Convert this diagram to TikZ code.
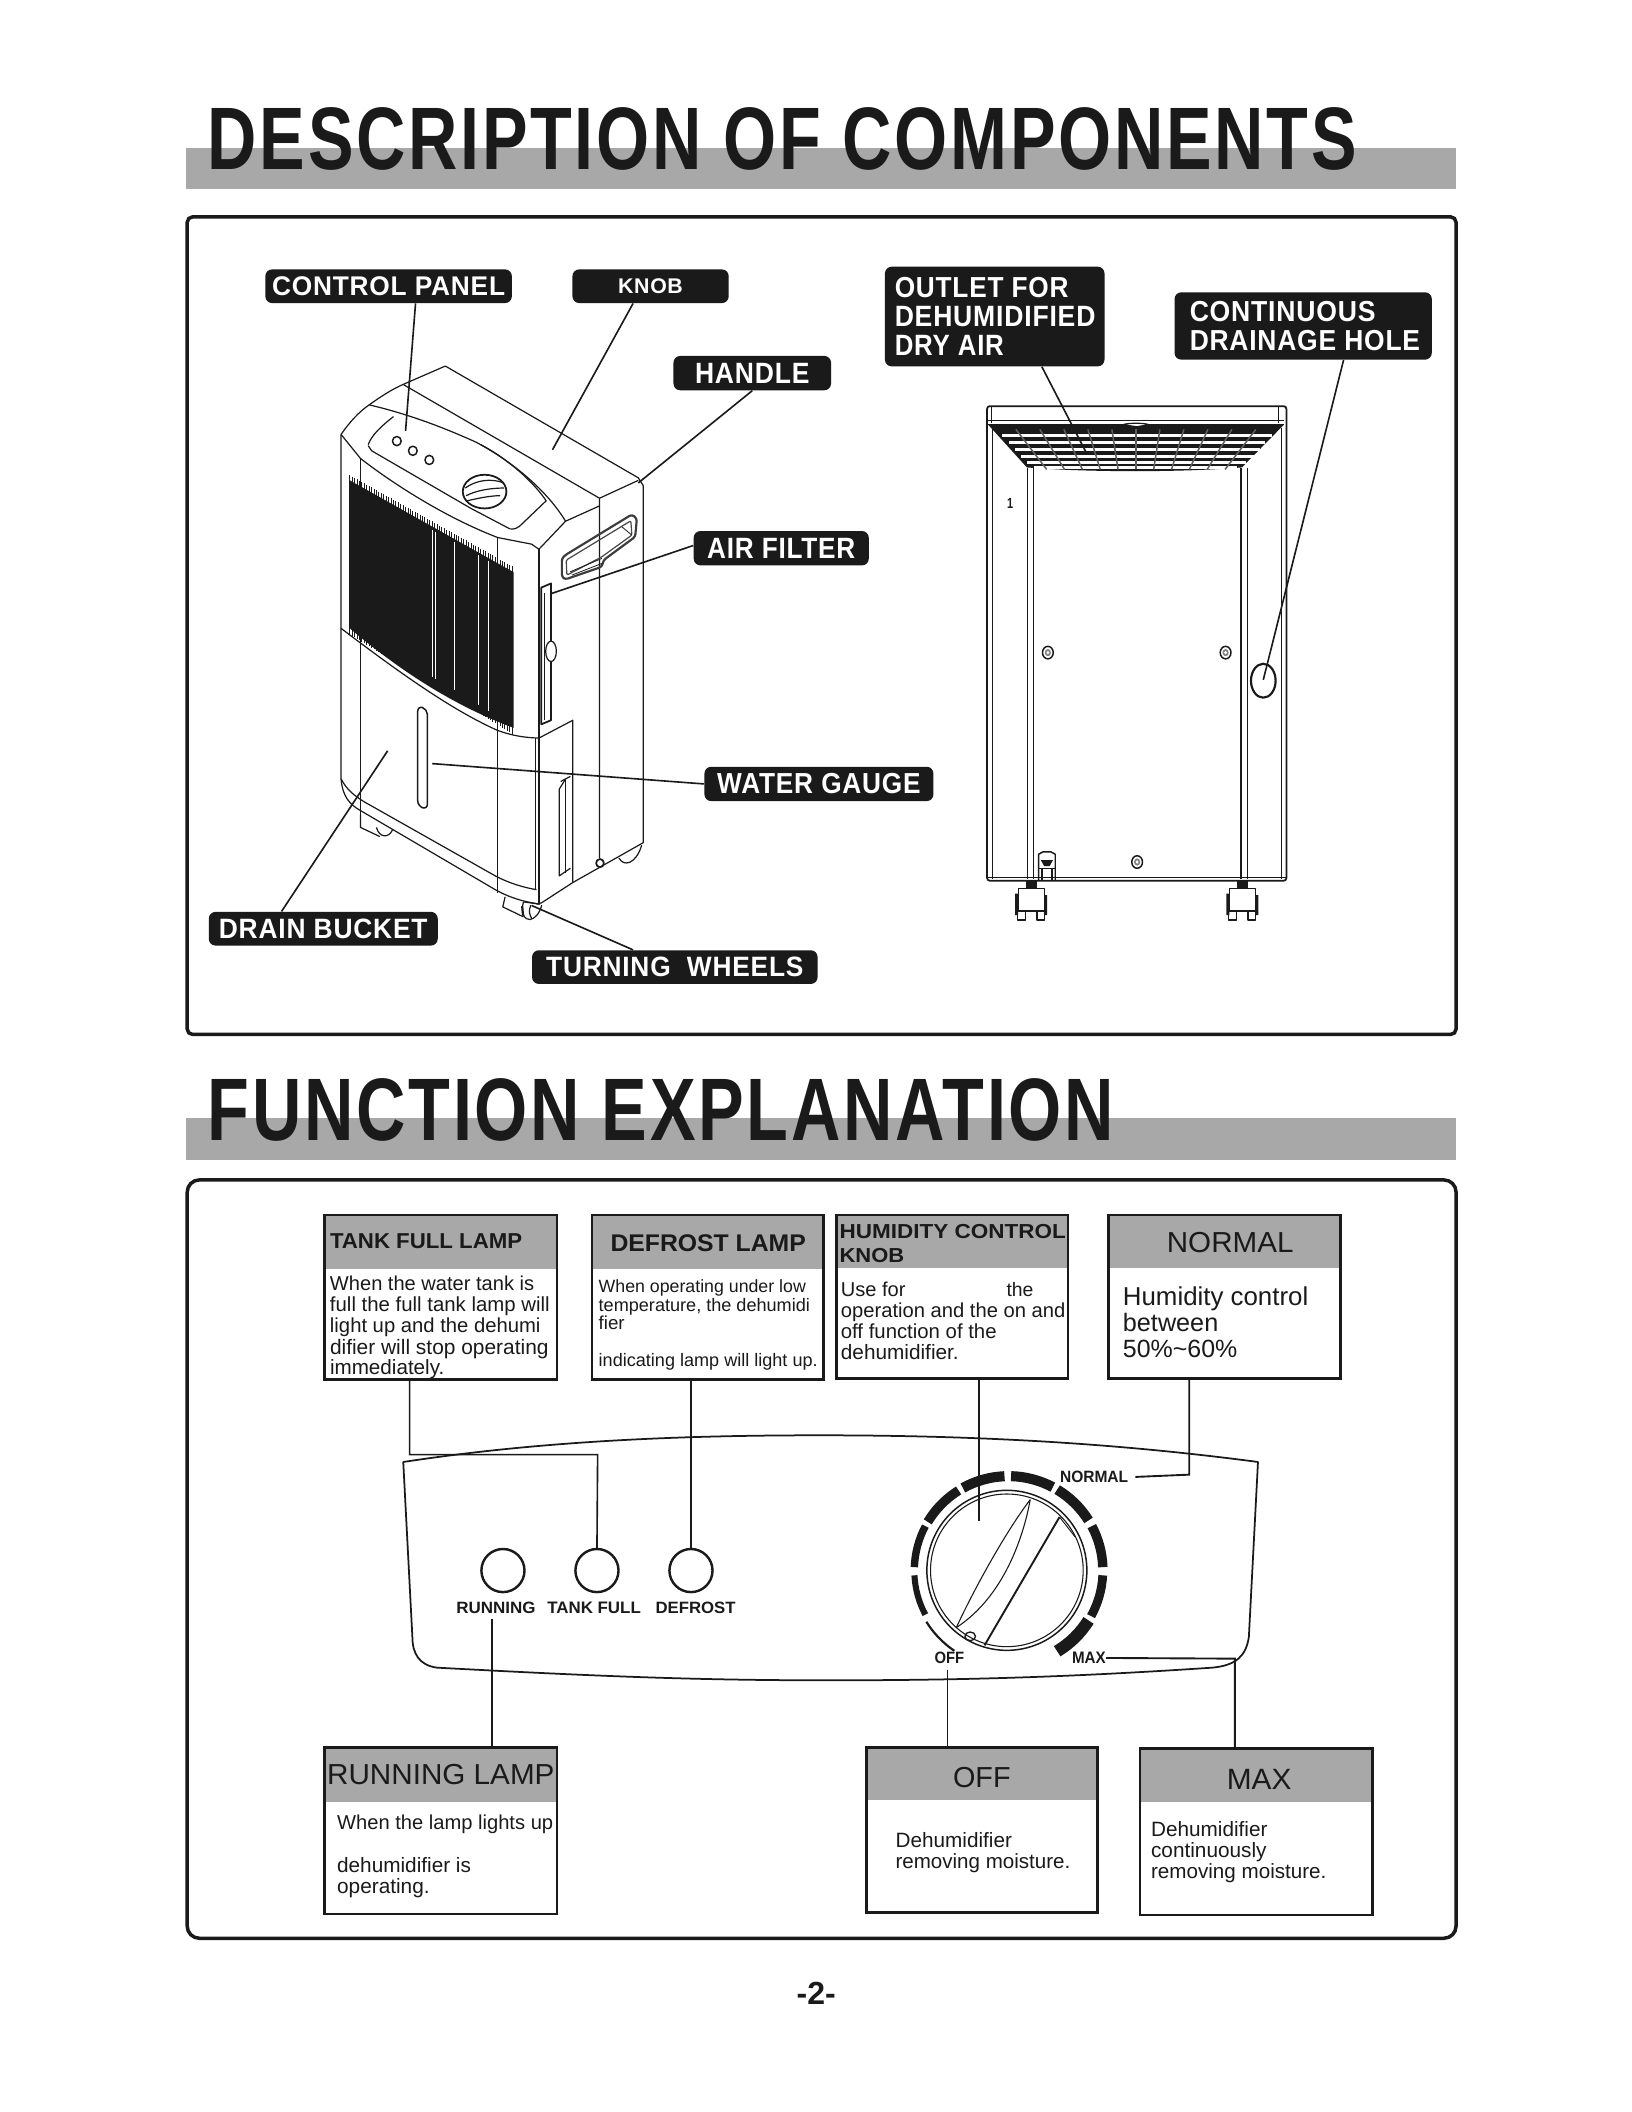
\documentclass[tikz,border=0pt]{standalone}
\usepackage{fontspec}
\usepackage{graphicx}
\setmainfont{Liberation Sans}
\usetikzlibrary{fit,calc}
\newdimen\uu \uu=0.67347pt
\definecolor{ink}{HTML}{1A1A1A}
\definecolor{band}{HTML}{A8A8A8}
\newcounter{txtc}
\newcommand\spaced{\addfontfeature{LetterSpace=3}}
\tikzset{
  dev/.style={draw=ink,line width=0.9\uu,line join=round},
  link/.style={draw=ink,line width=1.2\uu},
  fbox/.style={draw=ink,line width=2\uu,inner sep=-1\uu},
  pillbox/.style={fill=ink,draw=none,rounded corners=5\uu,inner sep=0pt},
  tnode/.style={inner sep=0pt,text=ink},
}
\newcommand\pill[8]{\node[pillbox,minimum width=#4\uu,minimum height=#5\uu,text=white] (#1) at (#2,#3) {\resizebox{#6\uu}{#7\uu}{\bfseries\spaced #8}};}
\newcommand\ftext[6]{\stepcounter{txtc}\node[tnode,anchor=west,text=#5] (txt\arabic{txtc}) at (#1,#2) {\resizebox{#3\uu}{#4\uu}{#6}};}
\newcommand\btext[4]{\stepcounter{txtc}\node[tnode,anchor=base west,yshift=-4.8\uu] (txt\arabic{txtc}) at (#1,#2) {\resizebox{#3\uu}{!}{#4}};}
\newcommand\funcbox[6]{\fill[band] (#2,#3) rectangle (#4,#6);\node[fbox,fit={(#2,#3)(#4,#5)}] (#1) {};}
\begin{document}
\begin{tikzpicture}[x=\uu,y=-\uu]
\useasboundingbox (0,0) rectangle (1211.6,1568);
\fill[white] (0,0) rectangle (1211.6,1568);
% titles
\fill[band] (138,110) rectangle (1081,140);
\node[tnode,anchor=west] (title1) at (154,103) {\resizebox{853\uu}{46\uu}{\bfseries\addfontfeature{LetterSpace=4} DESCRIPTION OF COMPONENTS}};
\draw[ink,line width=2.6\uu,rounded corners=4\uu] (139,161) rectangle (1081,768);
\fill[band] (138,830) rectangle (1081,861);
\node[tnode,anchor=west] (title2) at (154,824) {\resizebox{673\uu}{46\uu}{\bfseries\addfontfeature{LetterSpace=4} FUNCTION EXPLANATION}};
\draw[ink,line width=2.6\uu,rounded corners=9\uu] (139,876) rectangle (1081,1439);

% ---------- front view
\begin{scope}[shift={(133.7,163.4)},x=.36\uu,y=-.3789\uu]
\fill[ink] (350,510) -- (688,690) -- (688,995) .. controls (560,950) and (450,880) .. (350,800) -- cycle;
\foreach \x in {350,355,...,688} {
  \draw[ink,line width=.7\uu] (\x,{510+(\x-350)*.5325-10}) -- (\x,{800+(\x-350)*.58+12});
}
\foreach \x in {520,527,565,615,635,655} \draw[white,line width=.5\uu] (\x,{510+(\x-350)*.5325+6}) -- (\x,{800+(\x-350)*.58-4});
\draw[dev] (332,420) .. controls (350,395) and (370,375) .. (390,362) .. controls (415,345) and (440,330) .. (460,322) -- (547,286) -- (945,505) -- (955,520) -- (955,1220) -- (810,1298) -- (745,1338) -- (735,1340);
\draw[dev] (332,420) -- (332,1095) .. controls (335,1130) and (350,1145) .. (372,1157) -- (650,1312) .. controls (680,1328) and (710,1336) .. (740,1340);
\draw[dev] (332,1095) .. controls (345,1118) and (360,1128) .. (380,1140) -- (650,1285) .. controls (680,1300) and (710,1308) .. (735,1312);
\draw[dev] (460,322) -- (865,545) -- (865,1250);
\draw[dev] (865,545) -- (945,510);
\draw[dev] (390,362) .. controls (470,380) and (540,405) .. (610,435) .. controls (670,465) and (750,520) .. (795,590);
\draw[dev] (388,440) .. controls (395,420) and (420,400) .. (440,385);
\draw[dev] (388,442) -- (395,452) -- (600,565) -- (680,605) .. controls (690,606) and (695,604) .. (700,600) -- (755,550) .. controls (730,515) and (680,470) .. (620,440);
\draw[dev] (332,420) -- (372,467) .. controls (430,510) and (540,580) .. (655,622) -- (725,635) -- (740,645) -- (795,590) -- (865,560);
\draw[dev] (372,467) -- (372,1190);
\draw[dev] (655,620) -- (655,1318);
\draw[dev] (740,645) -- (740,1340);
\draw[dev] (733,1015) -- (733,1310);
\draw[dev] (332,800) .. controls (450,885) and (560,960) .. (655,1000) .. controls (690,1012) and (715,1014) .. (740,1015) -- (810,980) -- (810,1298);
% filter slot
\draw[dev,line width=1.3\uu] (745,720) -- (765,712) -- (765,980) -- (745,988) -- cycle;
\draw[dev] (752,730) -- (752,980);
\draw[dev,fill=white] (765,845) ellipse (11 and 20);
% gauge
\draw[dev,line width=1.1\uu,rounded corners=4\uu] (490,952) -- (510,958) -- (510,1155) -- (490,1148) -- cycle;
% bucket detail
\draw[dev] (785,1100) -- (805,1090);
\draw[dev] (795,1095) -- (782,1115) -- (782,1285) -- (805,1270);
\draw[dev] (795,1095) -- (795,1280);
% buttons
\draw[dev,line width=1.1\uu] (447,433) circle (9) (480,452) circle (9) (514,470) circle (9);
% knob
\draw[dev,line width=1.3\uu,fill=white] (628,532) ellipse (45 and 33);
\draw[dev] (588,525) .. controls (610,510) and (640,505) .. (668,515);
\draw[dev] (590,540) .. controls (610,530) and (640,525) .. (668,525);
\draw[dev] (592,550) .. controls (615,545) and (640,540) .. (660,540);
% rear foot & wheels
\draw[dev] (372,1165) -- (372,1190) -- (412,1208);
\draw[dev] (405,1190) .. controls (410,1210) and (430,1212) .. (438,1195);
\draw[dev] (905,1250) .. controls (915,1268) and (940,1262) .. (952,1225);
\draw[dev,line width=1.3\uu] (866,1260) circle (8);
\coordinate (cpEnd) at (465,413);
\coordinate (knobEnd) at (768,450);
\coordinate (handEnd) at (945,515);
\coordinate (filtEnd) at (765,732);
\coordinate (gaugeEnd) at (520,1065);
\coordinate (drainEnd) at (428,1040);
\coordinate (wheelEnd) at (725,1343);
\end{scope}
% handle
\begin{scope}[shift={(386.2,341.6)},x=.2475\uu,y=-.2475\uu]
\draw[dev,line width=1.6\uu,draw=ink!85,rounded corners=2\uu] (125,295) -- (135,285) -- (335,163) -- (350,175) -- (345,230) -- (250,300) -- (245,320) -- (135,358) -- (125,350) -- cycle;
\draw[dev,draw=ink!80,rounded corners=1\uu] (138,300) -- (332,182) -- (335,225) -- (245,290) -- (140,345) -- cycle;
\draw[dev,line width=.6\uu] (305,200) -- (335,225) (150,335) -- (245,295) (155,345) -- (245,310);
\end{scope}
% front wheel
\begin{scope}[shift={(341.6,631.2)},x=.2475\uu,y=-.2475\uu]
\draw[dev] (135,140) -- (128,170) -- (190,200);
\draw[dev] (190,155) .. controls (180,190) and (195,210) .. (210,208) .. controls (225,205) and (238,190) .. (245,165);
\draw[dev] (190,155) -- (240,162);
\draw[ink,line width=1.6\uu] (186,168) -- (189,196);
\draw[dev] (212,165) .. controls (205,180) and (208,195) .. (215,205);
\end{scope}
% ---------- rear view
\begin{scope}[shift={(638.6,178.2)},x=.2856\uu,y=-.3315\uu]
\draw[dev,line width=1.3\uu,rounded corners=2\uu] (330,372) rectangle (1108,1435);
\draw[dev] (345,420) -- (345,1430);
\draw[dev] (1095,420) -- (1095,1430);
\draw[dev,line width=1\uu] (435,510) -- (435,1430) (450,510) -- (450,1430);
\draw[dev,line width=1\uu] (990,510) -- (990,1430) (1007,510) -- (1007,1430);
\draw[dev] (330,1428) -- (1108,1428);
\foreach \cx/\cy in {488/924,950/924,720/1393} {
  \draw[dev,line width=1.1\uu] (\cx,\cy) circle (14);
  \fill[ink!55] (\cx,\cy) circle (8);
  \fill[white] (\cx,\cy) circle (4);
}
\draw[dev,line width=1.6\uu] (1048,987) ellipse (32 and 38);
\node[tnode] (rearone) at (390,589) {\resizebox{4.5\uu}{7.5\uu}{\bfseries 1}};
\coordinate (outEnd) at (590,480);
\coordinate (holeEnd) at (1048,985);
\end{scope}
% grille
\begin{scope}[shift={(720.3,289.6)},x=.2475\uu,y=-.2475\uu]
\draw[dev] (65,52) -- (65,100) (925,52) -- (925,100);
\draw[dev] (50,92) -- (940,92);
\draw[dev] (50,103) -- (940,103);
\fill[ink] (55,105) -- (940,105) -- (815,232) .. controls (640,247) and (350,247) .. (170,232) -- cycle;
\foreach \yy/\xa/\xb in {137/95/905,157/115/885,178/135/868,198/152/850,218/170/828,233/190/800} {
  \fill[white] (\xa,{\yy-4.5}) rectangle (\xb,{\yy+4.5});
}
\foreach \i in {-5,...,5} {
  \draw[ink!70,line width=1.1\uu] ({497+\i*72},118) -- ({497+\i*53.5},238);
}
\draw[dev,fill=white] (458,104) .. controls (470,98) and (525,98) .. (536,104) -- (500,110) -- cycle;
\end{scope}
% valve and casters
\begin{scope}[shift={(742.6,594.1)},x=.2475\uu,y=-.2475\uu]
\draw[dev,line width=1.1\uu] (115,240) -- (115,162) -- (128,155) -- (152,155) -- (165,162) -- (165,240);
\draw[dev] (115,205) -- (165,205) (125,240) -- (125,205) (155,240) -- (155,205);
\fill[ink] (122,180) -- (158,180) -- (148,198) -- (132,198) -- cycle;
\foreach \wx in {0,633} {
\begin{scope}[xshift=\wx*.2475\uu]
  \fill[ink] (76,241) rectangle (110,262);
  \draw[dev,line width=1.1\uu,fill=white] (55,265) rectangle (132,332);
  \fill[ink] (45,280) rectangle (54,345) (133,285) rectangle (141,345);
  \draw[dev,line width=1.1\uu] (52,332) rectangle (75,360) (110,332) rectangle (132,360);
\end{scope}
}
\end{scope}
% ---------- labels top
\pill{lcp}{288.5}{212.5}{183}{25}{173}{14}{CONTROL PANEL}
\pill{lknob}{483}{212.5}{116}{25}{48}{11}{KNOB}
\pill{lhandle}{558.5}{277}{117}{25.5}{85}{15}{HANDLE}
\pill{lfilter}{580}{407}{130}{25.5}{110}{15}{AIR FILTER}
\pill{lgauge}{608}{582}{170}{25.5}{151}{15}{WATER GAUGE}
\pill{ldrain}{240}{689.5}{170}{25}{155}{14.5}{DRAIN BUCKET}
\pill{lturn}{501}{718}{212}{25}{191}{14.5}{TURNING\ \ WHEELS}
\node[pillbox,minimum width=163\uu,minimum height=74\uu] (loutlet) at (738.5,235) {};
\ftext{664}{213.5}{129}{15}{white}{\bfseries\spaced OUTLET FOR}
\ftext{664}{235}{149}{15}{white}{\bfseries\spaced DEHUMIDIFIED}
\ftext{664}{256.5}{81}{15}{white}{\bfseries\spaced DRY AIR}
\node[pillbox,minimum width=191\uu,minimum height=50\uu] (lcont) at (967.5,242) {};
\ftext{883}{231}{138}{15}{white}{\bfseries\spaced CONTINUOUS}
\ftext{883}{252.5}{171}{15}{white}{\bfseries\spaced DRAINAGE HOLE}
\draw[link] ([xshift=20\uu]lcp.south) -- (cpEnd);
\draw[link] ([xshift=-13\uu]lknob.south) -- (knobEnd);
\draw[link] (lhandle.south) -- (handEnd);
\draw[link] ([yshift=2\uu]lfilter.west) -- (filtEnd);
\draw[link] (lgauge.west) -- (gaugeEnd);
\draw[link] ([xshift=-31\uu]ldrain.north) -- (drainEnd);
\draw[link] ([xshift=-31\uu]lturn.north) -- (wheelEnd);
\draw[link] ([xshift=35\uu]loutlet.south) -- (outEnd);
\draw[link] ([xshift=30\uu]lcont.south) -- (holeEnd);

% ---------- function boxes
\funcbox{btank}{240}{901}{414.5}{1025}{942}
\funcbox{bdef}{438.5}{901}{612.5}{1025}{942}
\funcbox{bhum}{619.8}{901}{793.8}{1024.5}{941.4}
\funcbox{bnorm}{822}{901}{996}{1024.5}{941.4}
\funcbox{brun}{240}{1296.6}{414.5}{1422}{1337.5}
\funcbox{boff}{642.2}{1296.6}{815.7}{1421}{1336}
\funcbox{bmax}{845.4}{1297.3}{1019.9}{1422.8}{1338}
% headers
\ftext{244.7}{921.6}{142.7}{11}{ink}{\bfseries TANK FULL LAMP}
\ftext{453}{923}{145}{12.5}{ink}{\bfseries DEFROST LAMP}
\ftext{623}{914.6}{168}{10.5}{ink}{\bfseries HUMIDITY CONTROL}
\ftext{623}{932}{48}{10.5}{ink}{\bfseries KNOB}
\ftext{866}{922.6}{94}{15}{ink}{NORMAL}
\ftext{242.6}{1317.4}{168.8}{15}{ink}{RUNNING LAMP}
\ftext{707.3}{1319.4}{42.7}{15}{ink}{OFF}
\ftext{910.5}{1321}{48}{15}{ink}{MAX}
% bodies
\btext{244.7}{953}{151.6}{When the water tank is}
\btext{244.7}{968.8}{163.1}{full the full tank lamp will}
\btext{244.7}{984.7}{156.3}{light up and the dehumi}
\btext{244.7}{1000.5}{162.3}{difier will stop operating}
\btext{244.7}{1016}{84.9}{immediately.}
\btext{444.2}{954.9}{153.8}{When operating under low}
\btext{444.2}{968.6}{156.8}{temperature, the dehumidi}
\btext{444.2}{982}{19.3}{fier}
\btext{444.2}{1009.9}{162.6}{indicating lamp will light up.}
\btext{624}{958}{48}{Use for}
\btext{747}{958}{20}{the}
\btext{624}{973.3}{166.7}{operation and the on and}
\btext{624}{989}{115.6}{off function of the}
\btext{624}{1004.5}{87.5}{dehumidifier.}
\btext{833.4}{964.4}{137.6}{Humidity control}
\btext{833.4}{984}{70.8}{between}
\btext{833.4}{1002.8}{84.9}{50\%\textasciitilde60\%}
\btext{250}{1353.5}{160.4}{When the lamp lights up}
\btext{250}{1385}{99.4}{dehumidifier is}
\btext{250}{1400.6}{68.7}{operating.}
\btext{664.6}{1366.9}{86.4}{Dehumidifier}
\btext{664.6}{1382.5}{129.7}{removing moisture.}
\btext{854.3}{1358.5}{86.4}{Dehumidifier}
\btext{854.3}{1374.3}{85.7}{continuously}
\btext{854.3}{1390}{130.2}{removing moisture.}

% ---------- control panel
\begin{scope}[shift={(222.8,883.7)},x=.521\uu,y=-.2475\uu]
\draw[dev,line width=1.3\uu] (147,815) .. controls (350,750) and (550,735) .. (740,735) .. controls (950,735) and (1150,755) .. (1365,815) -- (1352,1340) .. controls (1348,1395) and (1335,1425) .. (1300,1432) .. controls (1100,1460) and (950,1470) .. (750,1470) .. controls (550,1470) and (400,1455) .. (195,1432) .. controls (170,1425) and (160,1390) .. (160,1340) -- cycle;
\coordinate (runTop) at (274,1285);
\coordinate (humEnd) at (968,992);
\coordinate (c1) at (156,793);
\coordinate (c2) at (424,793);
\coordinate (normBend) at (1267,853);
\coordinate (maxBend) at (1332,1405);
\coordinate (offTop) at (923,1438);
\end{scope}
% dial
\begin{scope}[shift={(660.9,1061.9)},x=.2475\uu,y=-.2475\uu]
\draw[dev,line width=1.1\uu] (350,420) circle (240);
\draw[dev,line width=.8\uu] (350,420) circle (229);
\draw[dev,line width=.8\uu] (420,208) .. controls (350,300) and (260,460) .. (198,592);
\draw[dev,line width=.8\uu] (420,208) .. controls (400,320) and (340,500) .. (198,592);
\draw[dev,line width=1.4\uu] (508,260) -- (283,645);
\draw[dev,line width=.7\uu] (508,260) -- (555,320);
\draw[dev,line width=1\uu] (240,618) ellipse (16 and 13);
\end{scope}
\begin{scope}[shift={(748.8,1165.9)},yscale=-1]
\foreach \a/\b/\w in {88.5/62/7.5,59/32/7.5,28/2/7,-3/-29/6.5,-32/-59/9,92.5/119/7.5,122/149/7,152/178/5.5,183/208/4.5} {
  \draw[ink,line width=\w\uu] (\a:70) arc[start angle=\a,end angle=\b,radius=70];
}
\draw[ink,line width=1.6\uu] (212:72) arc[start angle=212,end angle=236,radius=72];
\end{scope}
% lamps
\node[circle,draw=ink,line width=1.8\uu,minimum size=32\uu,inner sep=0pt] (lamp1) at (373.4,1166) {};
\node[circle,draw=ink,line width=1.8\uu,minimum size=32\uu,inner sep=0pt] (lamp2) at (443.2,1166) {};
\node[circle,draw=ink,line width=1.8\uu,minimum size=32\uu,inner sep=0pt] (lamp3) at (513,1166) {};
\ftext{338.5}{1193.8}{58.8}{8.5}{ink}{\bfseries RUNNING}
\ftext{406}{1193.8}{69.5}{8.5}{ink}{\bfseries TANK FULL}
\ftext{486.4}{1193.8}{59.4}{8.5}{ink}{\bfseries DEFROST}
\node[tnode] (pnorm) at (812.3,1096.5) {\resizebox{50.6\uu}{8.5\uu}{\bfseries NORMAL}};
\node[tnode] (poff) at (704.8,1230.9) {\resizebox{22\uu}{8.5\uu}{\bfseries OFF}};
\node[tnode] (pmax) at (808.4,1230.9) {\resizebox{25\uu}{8.5\uu}{\bfseries MAX}};
% connectors
\draw[link] (btank.south -| c1) -- (c1) -- (c2) -- (lamp2.north);
\draw[link,line width=.9\uu] (bdef.south -| lamp3) -- (lamp3.north);
\draw[link,line width=1.4\uu] (bhum.south -| humEnd) -- (humEnd);
\draw[link,line width=1.4\uu] (bnorm.south -| normBend) -- (normBend) -- ([xshift=5\uu]pnorm.east);
\draw[link,line width=1.4\uu] (pmax.east) -- (maxBend) -- (bmax.north -| maxBend);
\draw[link,line width=1.4\uu] (runTop) -- (brun.north -| runTop);
\draw[link,line width=.8\uu] (offTop) -- (boff.north -| offTop);
\node[tnode] (pagenum) at (606,1480) {\resizebox{29\uu}{!}{\bfseries -2-}};
\end{tikzpicture}
\end{document}
